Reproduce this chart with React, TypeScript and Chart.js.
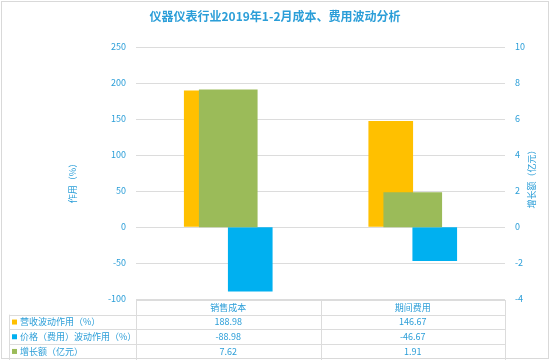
import React, { useEffect, useRef } from 'react';
import { Chart, registerables } from 'chart.js';

Chart.register(...registerables);

const chartTitle = '仪器仪表行业2019年1-2月成本、费用波动分析';
const categories = ['销售成本', '期间费用'];
const seriesNames = ['营收波动作用（%）', '价格（费用）波动作用（%）', '增长额（亿元）'];
const revenueEffect = [188.98, 146.67];
const priceEffect = [-88.98, -46.67];
const growthAmount = [7.62, 1.91];
const leftAxisTitle = '作用（%）';
const rightAxisTitle = '增长额（亿元）';
const seriesColors = ['#FFC000', '#00B0F0', '#9BBB59'];

const FONT = "'Noto Sans CJK SC', 'Noto Sans', sans-serif";
const TEXT = '#2B9ED8';
const LINE = '#DCDCDC';

const decorations = {
  id: 'decorations',
  beforeDraw(chart: any) {
    const ctx = chart.ctx;
    ctx.save();
    ctx.fillStyle = '#ffffff';
    ctx.fillRect(0, 0, chart.width, chart.height);
    ctx.restore();
  },
  afterDraw(chart: any) {
    const ctx = chart.ctx;
    const { left, right, top, bottom } = chart.chartArea;
    const xs = chart.scales.x;
    ctx.save();
    // frame
    ctx.strokeStyle = '#D9D9D9';
    ctx.lineWidth = 1;
    ctx.strokeRect(1.5, 1.5, chart.width - 3, chart.height - 3);

    // title
    ctx.fillStyle = TEXT;
    ctx.textAlign = 'center';
    ctx.textBaseline = 'middle';
    ctx.font = `bold 12px ${FONT}`;
    ctx.fillText(chartTitle, 275, 16);

    // axis titles
    ctx.font = `9px ${FONT}`;
    ctx.save();
    ctx.translate(73, (top + bottom) / 2 + 8);
    ctx.rotate(-Math.PI / 2);
    ctx.fillText(leftAxisTitle, 0, 0);
    ctx.restore();
    ctx.save();
    ctx.translate(532, (top + bottom) / 2 + 4);
    ctx.rotate(-Math.PI / 2);
    ctx.fillText(rightAxisTitle, 0, 0);
    ctx.restore();

    // data table
    const rowH = 14.7;
    const y0 = bottom + 1;
    const labelLeft = 9;
    const mid = (xs.getPixelForValue(0) + xs.getPixelForValue(1)) / 2;
    ctx.strokeStyle = LINE;
    ctx.lineWidth = 1;
    ctx.beginPath();
    ctx.moveTo(left, Math.round(y0) + 0.5);
    ctx.lineTo(right, Math.round(y0) + 0.5);
    for (let i = 1; i <= 3; i++) {
      const y = Math.round(y0 + rowH * i) + 0.5;
      ctx.moveTo(labelLeft, y);
      ctx.lineTo(right, y);
    }
    const vx = [left, mid, right];
    for (const x of vx) {
      ctx.moveTo(Math.round(x) + 0.5, y0);
      ctx.lineTo(Math.round(x) + 0.5, chart.height);
    }
    ctx.moveTo(labelLeft + 0.5, y0 + rowH);
    ctx.lineTo(labelLeft + 0.5, chart.height);
    ctx.stroke();

    ctx.font = `9px ${FONT}`;
    ctx.fillStyle = TEXT;
    ctx.textAlign = 'center';
    categories.forEach((c, i) => {
      ctx.fillText(c, xs.getPixelForValue(i), y0 + rowH / 2);
    });
    const rows = [revenueEffect, priceEffect, growthAmount];
    rows.forEach((vals, r) => {
      const cy = y0 + rowH * (r + 1) + rowH / 2;
      ctx.textAlign = 'center';
      ctx.fillStyle = TEXT;
      vals.forEach((v, i) => {
        ctx.fillText(v.toFixed(2), xs.getPixelForValue(i), cy);
      });
      ctx.fillStyle = seriesColors[r];
      ctx.fillRect(12, cy - 2.5, 5, 5);
      ctx.fillStyle = TEXT;
      ctx.textAlign = 'left';
      ctx.fillText(seriesNames[r], 20, cy);
    });
    ctx.restore();
  },
};

export default function App() {
  const ref = useRef<HTMLCanvasElement | null>(null);

  useEffect(() => {
    if (!ref.current) return;
    const chart = new Chart(ref.current, {
      type: 'bar',
      data: {
        labels: categories,
        datasets: [
          {
            label: seriesNames[0],
            data: revenueEffect,
            backgroundColor: seriesColors[0],
            xAxisID: 'x',
            yAxisID: 'y',
            barThickness: 44,
            order: 1,
          },
          {
            label: seriesNames[1],
            data: priceEffect,
            backgroundColor: seriesColors[1],
            xAxisID: 'x',
            yAxisID: 'y',
            barThickness: 44,
            order: 1,
          },
          {
            label: seriesNames[2],
            data: growthAmount,
            backgroundColor: seriesColors[2],
            xAxisID: 'x',
            yAxisID: 'y2',
            barThickness: 58,
            grouped: false,
            order: 0,
          },
        ],
      },
      options: {
        responsive: false,
        animation: false,
        layout: { padding: { top: 47, bottom: 61, left: 0, right: 0 } },
        plugins: {
          legend: { display: false },
          tooltip: { enabled: false },
          title: { display: false },
        },
        scales: {
          x: { type: 'category', display: false, offset: true },
          y: {
            position: 'left',
            min: -100,
            max: 250,
            ticks: {
              stepSize: 50,
              color: TEXT,
              font: { size: 9, family: FONT },
              padding: 10,
            },
            grid: { color: LINE, drawTicks: false },
            border: { display: false },
            afterFit(scale: any) {
              scale.width = 136;
            },
          },
          y2: {
            position: 'right',
            min: -4,
            max: 10,
            ticks: {
              stepSize: 2,
              color: TEXT,
              font: { size: 9, family: FONT },
              padding: 10,
            },
            grid: { display: false, drawTicks: false },
            border: { display: false },
            afterFit(scale: any) {
              scale.width = 45;
            },
          },
        },
      },
      plugins: [decorations],
    } as any);
    return () => chart.destroy();
  }, []);

  return (
    <div style={{ position: 'fixed', left: 0, top: 0, width: 550, height: 360 }}>
      <canvas ref={ref} width={550} height={360} />
    </div>
  );
}
